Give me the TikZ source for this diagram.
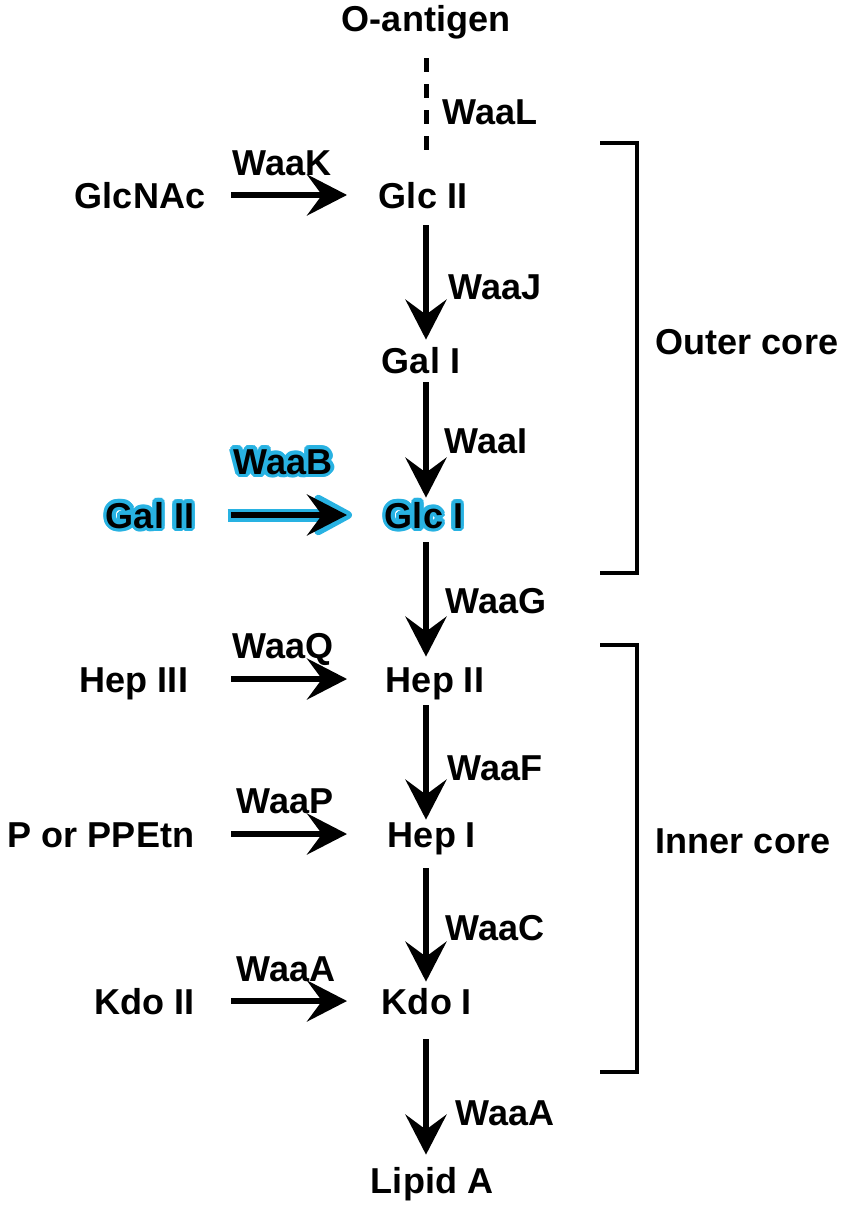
\documentclass[tikz,border=0pt]{standalone}
\usepackage{fontspec}
\setmainfont{Liberation Sans}
\usepackage{tikz}
\usetikzlibrary{arrows.meta}
\definecolor{glowblue}{RGB}{40,178,226}
\tikzset{
    sugar/.style={font=\bfseries\fontsize{20.5}{24}\selectfont, inner sep=0pt,
        text height=14.8pt, text depth=0pt},
    enzyme/.style={sugar},
    glow/.style={text=glowblue},
    link/.style={draw=black, line width=0.13cm,
        -{Stealth[length=0.8cm,width=0.82cm,inset=0.3cm]}},
    linkglow/.style={draw=glowblue, line width=0.26cm, line join=round,
        -{Stealth[length=1.0cm,width=1.08cm,inset=0.36cm,round]}},
    olink/.style={draw=black, line width=0.1cm, dash pattern=on 0.28cm off 0.24cm},
    core/.style={draw=black, line width=0.075cm},
}
% cyan halo behind a label
\newcommand{\glowlabel}[2]{%
    \foreach \a in {0,22.5,...,337.5}
        \node[sugar,glow] at ([shift={(\a:2.1pt)}]#1) {#2};
}

\begin{document}
\begin{tikzpicture}[x=0.02cm, y=-0.02cm]
    \useasboundingbox (0,0) rectangle (851,1206);
    \coordinate (col) at (426,0);
    \coordinate (lcol) at (231,0);
    \coordinate (rcol) at (347,0);

    % main chain
    \node[sugar] (oant) at (426,19) {O-antigen};
    \node[sugar] (glcII) at (423,195) {Glc II};
    \node[sugar] (galI) at (421,360) {Gal I};
    \glowlabel{424,515}{Glc I}
    \node[sugar] (glcI) at (424,515) {Glc I};
    \node[sugar] (hepII) at (435,679) {Hep II};
    \node[sugar] (hepI) at (432,834) {Hep I};
    \node[sugar] (kdoI) at (427,1001) {Kdo I};
    \node[sugar] (lipA) at (432,1180) {Lipid A};

    % side chains
    \node[sugar] (glcnac) at (140,195) {GlcNAc};
    \glowlabel{150,515}{Gal II}
    \node[sugar] (galII) at (150,515) {Gal II};
    \node[sugar] (hepIII) at (134,679) {Hep III};
    \node[sugar] (petn) at (101,834) {P or PPEtn};
    \node[sugar] (kdoII) at (145,1001) {Kdo II};

    % enzymes
    \node[enzyme] (waaL) at (490,111) {WaaL};
    \node[enzyme] (waaK) at (282,163) {WaaK};
    \node[enzyme] (waaJ) at (495,286) {WaaJ};
    \node[enzyme] (waaI) at (486,440) {WaaI};
    \glowlabel{283,461}{WaaB}
    \node[enzyme] (waaB) at (283,461) {WaaB};
    \node[enzyme] (waaG) at (496,600) {WaaG};
    \node[enzyme] (waaQ) at (283,645) {WaaQ};
    \node[enzyme] (waaF) at (495,767) {WaaF};
    \node[enzyme] (waaP) at (285,800) {WaaP};
    \node[enzyme] (waaC) at (495,927) {WaaC};
    \node[enzyme] (waaAk) at (286,968) {WaaA};
    \node[enzyme] (waaAl) at (505,1112) {WaaA};

    % links
    \draw[olink, shorten <=0.52cm, shorten >=0.54cm] (oant.south -| col) -- (glcII.north -| col);
    \draw[link, shorten <=0.34cm, shorten >=0.14cm] (glcII.south -| col) -- (galI.north -| col);
    \draw[link, shorten <=0.18cm, shorten >=0.08cm] (galI.south -| col) -- (glcI.north -| col);
    \draw[link, shorten <=0.28cm, shorten >=0.18cm] (glcI.south -| col) -- (hepII.north -| col);
    \draw[link, shorten <=0.26cm, shorten >=0.02cm] (hepII.south -| col) -- (hepI.north -| col);
    \draw[link, shorten <=0.42cm, shorten >=0.12cm] (hepI.south -| col) -- (kdoI.north -| col);
    \draw[link, shorten <=0.5cm, shorten >=0.24cm] (kdoI.south -| col) -- (lipA.north -| col);

    \draw[link] (glcnac -| lcol) -- (glcII -| rcol);
    \draw[linkglow, shorten <=-0.07cm, shorten >=-0.1cm] (galII -| lcol) -- (glcI -| rcol);
    \draw[link] (galII -| lcol) -- (glcI -| rcol);
    \draw[link] (hepIII -| lcol) -- (hepII -| rcol);
    \draw[link] (petn -| lcol) -- (hepI -| rcol);
    \draw[link] (kdoII -| lcol) -- (kdoI -| rcol);

    % cores
    \draw[core] (600,143) -- (637,143) -- (637,573) -- (600,573);
    \node[sugar] (outer) at (747,341) {Outer core};
    \draw[core] (600,645) -- (637,645) -- (637,1072) -- (600,1072);
    \node[sugar] (inner) at (743,840) {Inner core};
\end{tikzpicture}
\end{document}
